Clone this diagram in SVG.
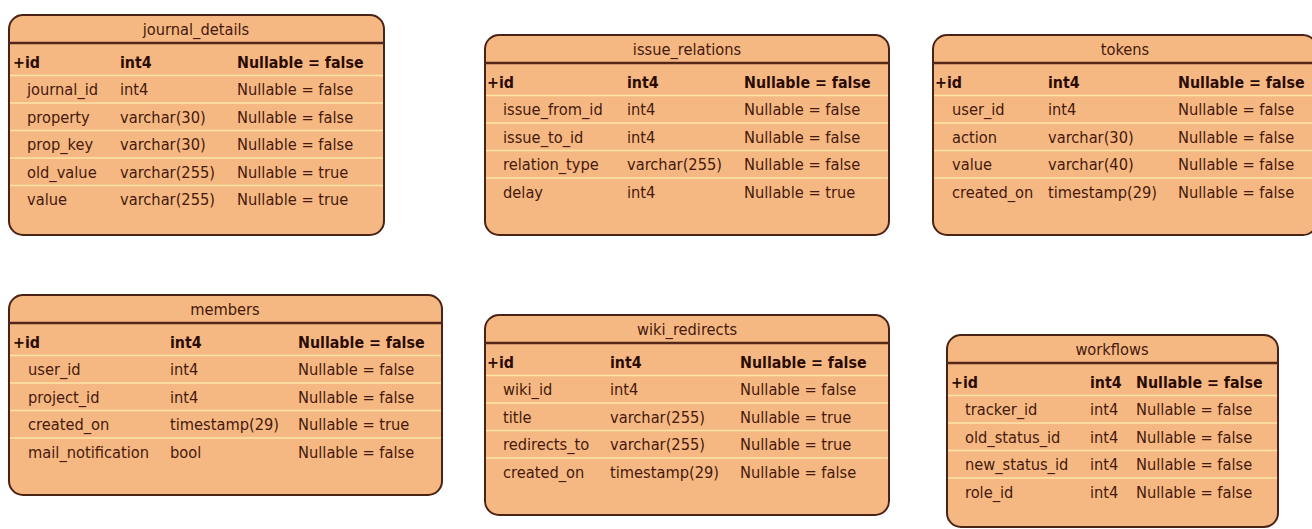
<svg xmlns="http://www.w3.org/2000/svg" width="1312" height="529" viewBox="0 0 1312 529">
<style>
.box{fill:#F6B883;stroke:#4a2216;stroke-width:2}
.sep{stroke:#562619;stroke-width:2.5}
.row{stroke:#FBE6A8;stroke-width:1.6}
text{font-family:"DejaVu Sans Condensed","DejaVu Sans","Liberation Sans",sans-serif;font-stretch:condensed;font-size:16.3px;fill:#45190c}
.t{text-anchor:middle}
.b{font-weight:bold;font-size:15.8px;fill:#2a0b04}
</style>
<rect width="1312" height="529" fill="#ffffff"/>

<g id="journal_details">
<rect class="box" x="9" y="15" width="375" height="220" rx="14"/>
<line class="sep" x1="9" y1="43" x2="384" y2="43"/>
<line class="row" x1="10" y1="75.5" x2="383" y2="75.5"/>
<line class="row" x1="10" y1="103" x2="383" y2="103"/>
<line class="row" x1="10" y1="130.5" x2="383" y2="130.5"/>
<line class="row" x1="10" y1="158" x2="383" y2="158"/>
<line class="row" x1="10" y1="185.5" x2="383" y2="185.5"/>
<text class="t" x="196" y="35">journal_details</text>
<text class="b" x="13" y="68">+id</text><text class="b" x="120" y="68">int4</text><text class="b" x="237" y="68">Nullable = false</text>
<text x="27" y="95">journal_id</text><text x="120" y="95">int4</text><text x="237" y="95">Nullable = false</text>
<text x="27" y="122.5">property</text><text x="120" y="122.5">varchar(30)</text><text x="237" y="122.5">Nullable = false</text>
<text x="27" y="150">prop_key</text><text x="120" y="150">varchar(30)</text><text x="237" y="150">Nullable = false</text>
<text x="27" y="177.5">old_value</text><text x="120" y="177.5">varchar(255)</text><text x="237" y="177.5">Nullable = true</text>
<text x="27" y="205">value</text><text x="120" y="205">varchar(255)</text><text x="237" y="205">Nullable = true</text>
</g>

<g id="issue_relations">
<rect class="box" x="485" y="35" width="404" height="200" rx="14"/>
<line class="sep" x1="485" y1="63" x2="889" y2="63"/>
<line class="row" x1="486" y1="95.5" x2="888" y2="95.5"/>
<line class="row" x1="486" y1="123" x2="888" y2="123"/>
<line class="row" x1="486" y1="150.5" x2="888" y2="150.5"/>
<line class="row" x1="486" y1="178" x2="888" y2="178"/>
<text class="t" x="687" y="55">issue_relations</text>
<text class="b" x="487" y="88">+id</text><text class="b" x="627" y="88">int4</text><text class="b" x="744" y="88">Nullable = false</text>
<text x="503" y="115">issue_from_id</text><text x="627" y="115">int4</text><text x="744" y="115">Nullable = false</text>
<text x="503" y="142.5">issue_to_id</text><text x="627" y="142.5">int4</text><text x="744" y="142.5">Nullable = false</text>
<text x="503" y="170">relation_type</text><text x="627" y="170">varchar(255)</text><text x="744" y="170">Nullable = false</text>
<text x="503" y="197.5">delay</text><text x="627" y="197.5">int4</text><text x="744" y="197.5">Nullable = true</text>
</g>

<g id="tokens">
<rect class="box" x="933" y="35" width="384" height="200" rx="14"/>
<line class="sep" x1="933" y1="63" x2="1317" y2="63"/>
<line class="row" x1="934" y1="95.5" x2="1316" y2="95.5"/>
<line class="row" x1="934" y1="123" x2="1316" y2="123"/>
<line class="row" x1="934" y1="150.5" x2="1316" y2="150.5"/>
<line class="row" x1="934" y1="178" x2="1316" y2="178"/>
<text class="t" x="1125" y="55">tokens</text>
<text class="b" x="935" y="88">+id</text><text class="b" x="1048" y="88">int4</text><text class="b" x="1178" y="88">Nullable = false</text>
<text x="952" y="115">user_id</text><text x="1048" y="115">int4</text><text x="1178" y="115">Nullable = false</text>
<text x="952" y="142.5">action</text><text x="1048" y="142.5">varchar(30)</text><text x="1178" y="142.5">Nullable = false</text>
<text x="952" y="170">value</text><text x="1048" y="170">varchar(40)</text><text x="1178" y="170">Nullable = false</text>
<text x="952" y="197.5">created_on</text><text x="1048" y="197.5">timestamp(29)</text><text x="1178" y="197.5">Nullable = false</text>
</g>

<g id="members">
<rect class="box" x="9" y="295" width="433" height="200" rx="14"/>
<line class="sep" x1="9" y1="323" x2="442" y2="323"/>
<line class="row" x1="10" y1="355.5" x2="441" y2="355.5"/>
<line class="row" x1="10" y1="383" x2="441" y2="383"/>
<line class="row" x1="10" y1="410.5" x2="441" y2="410.5"/>
<line class="row" x1="10" y1="438" x2="441" y2="438"/>
<text class="t" x="225" y="315">members</text>
<text class="b" x="13" y="348">+id</text><text class="b" x="170" y="348">int4</text><text class="b" x="298" y="348">Nullable = false</text>
<text x="28" y="375">user_id</text><text x="170" y="375">int4</text><text x="298" y="375">Nullable = false</text>
<text x="28" y="402.5">project_id</text><text x="170" y="402.5">int4</text><text x="298" y="402.5">Nullable = false</text>
<text x="28" y="430">created_on</text><text x="170" y="430">timestamp(29)</text><text x="298" y="430">Nullable = true</text>
<text x="28" y="457.5">mail_notification</text><text x="170" y="457.5">bool</text><text x="298" y="457.5">Nullable = false</text>
</g>

<g id="wiki_redirects">
<rect class="box" x="485" y="315" width="404" height="200" rx="14"/>
<line class="sep" x1="485" y1="343" x2="889" y2="343"/>
<line class="row" x1="486" y1="375.5" x2="888" y2="375.5"/>
<line class="row" x1="486" y1="403" x2="888" y2="403"/>
<line class="row" x1="486" y1="430.5" x2="888" y2="430.5"/>
<line class="row" x1="486" y1="458" x2="888" y2="458"/>
<text class="t" x="687" y="335">wiki_redirects</text>
<text class="b" x="487" y="368">+id</text><text class="b" x="610" y="368">int4</text><text class="b" x="740" y="368">Nullable = false</text>
<text x="503" y="395">wiki_id</text><text x="610" y="395">int4</text><text x="740" y="395">Nullable = false</text>
<text x="503" y="422.5">title</text><text x="610" y="422.5">varchar(255)</text><text x="740" y="422.5">Nullable = true</text>
<text x="503" y="450">redirects_to</text><text x="610" y="450">varchar(255)</text><text x="740" y="450">Nullable = true</text>
<text x="503" y="477.5">created_on</text><text x="610" y="477.5">timestamp(29)</text><text x="740" y="477.5">Nullable = false</text>
</g>

<g id="workflows">
<rect class="box" x="947" y="335" width="331" height="192" rx="14"/>
<line class="sep" x1="947" y1="363" x2="1278" y2="363"/>
<line class="row" x1="948" y1="395.5" x2="1277" y2="395.5"/>
<line class="row" x1="948" y1="423" x2="1277" y2="423"/>
<line class="row" x1="948" y1="450.5" x2="1277" y2="450.5"/>
<line class="row" x1="948" y1="478" x2="1277" y2="478"/>
<text class="t" x="1112" y="355">workflows</text>
<text class="b" x="951" y="388">+id</text><text class="b" x="1090" y="388">int4</text><text class="b" x="1136" y="388">Nullable = false</text>
<text x="965" y="415">tracker_id</text><text x="1090" y="415">int4</text><text x="1136" y="415">Nullable = false</text>
<text x="965" y="442.5">old_status_id</text><text x="1090" y="442.5">int4</text><text x="1136" y="442.5">Nullable = false</text>
<text x="965" y="470">new_status_id</text><text x="1090" y="470">int4</text><text x="1136" y="470">Nullable = false</text>
<text x="965" y="497.5">role_id</text><text x="1090" y="497.5">int4</text><text x="1136" y="497.5">Nullable = false</text>
</g>
</svg>
